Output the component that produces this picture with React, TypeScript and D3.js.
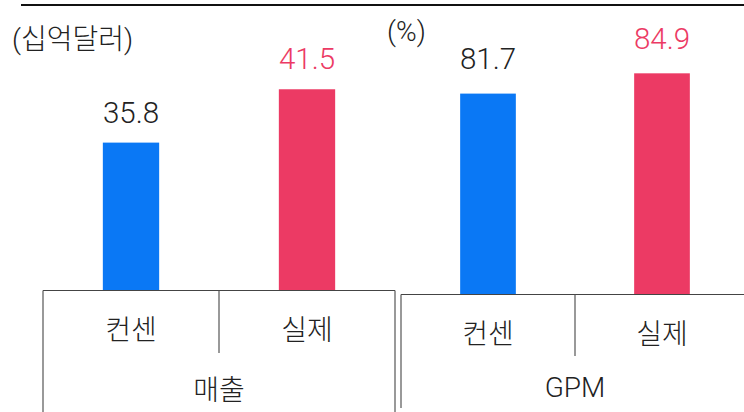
import React from "react";
import * as d3 from "d3";

const categories = ["컨센", "실제"];
const groups = ["매출", "GPM"];
const units = ["(십억달러)", "(%)"];
const salesValues = [35.8, 41.5];
const gpmValues = [81.7, 84.9];
const salesDomain = [20, 45];
const gpmDomain = [50, 90];

const BLUE = "#0a78f5";
const RED = "#ec3a64";
const FONT = "Roboto, 'Noto Sans CJK KR', sans-serif";

type Panel = {
  x0: number;
  x1: number;
  base: number;
  top: number;
  domain: number[];
  values: number[];
  group: string;
  unit: string;
  unitX: number;
  unitY: number;
  labelGap: number;
  catY: number;
  divBottom: number;
  groupY: number;
  leftBottom: number;
};

const panels: Panel[] = [
  {
    x0: 43, x1: 395, base: 290.5, top: 56.5, domain: salesDomain, values: salesValues,
    group: groups[0], unit: units[0], unitX: 12, unitY: 49, labelGap: 20,
    catY: 340, divBottom: 353, groupY: 400, leftBottom: 412,
  },
  {
    x0: 401, x1: 749, base: 294.5, top: 41, domain: gpmDomain, values: gpmValues,
    group: groups[1], unit: units[1], unitX: 387, unitY: 41, labelGap: 24.5,
    catY: 344, divBottom: 356, groupY: 397, leftBottom: 408,
  },
];

function PanelView({ p }: { p: Panel }) {
  const x = d3.scaleBand<string>().domain(categories).range([p.x0, p.x1]).paddingInner(0.68).paddingOuter(0.34);
  const xb = d3.scaleBand<string>().domain(categories).range([p.x0, p.x1]).padding(0);
  const y = d3.scaleLinear().domain(p.domain).range([p.base, p.top]);
  const mid = xb(categories[1])!;
  return (
    <g>
      {p.values.map((v, i) => {
        const c = categories[i];
        const bx = x(c)!;
        return (
          <g key={c}>
            <rect x={bx} y={y(v)} width={x.bandwidth()} height={p.base - y(v)} fill={i === 0 ? BLUE : RED} />
            <text
              x={bx + x.bandwidth() / 2}
              y={y(v) - p.labelGap}
              textAnchor="middle"
              fontSize={29.5}
              fontWeight={300}
              fill={i === 0 ? "#222" : RED}
            >
              {v.toFixed(1)}
            </text>
            <text
              x={xb(c)! + xb.bandwidth() / 2}
              y={p.catY}
              textAnchor="middle"
              fontSize={28}
              fontWeight={300}
              fill="#222"
            >
              {c}
            </text>
          </g>
        );
      })}
      <line x1={p.x0} x2={p.x1} y1={p.base} y2={p.base} stroke="#444" strokeWidth={1.2} />
      <line x1={p.x0} x2={p.x0} y1={p.base} y2={p.leftBottom} stroke="#555" strokeWidth={1.2} />
      <line x1={p.x1} x2={p.x1} y1={p.base} y2={p.leftBottom} stroke="#555" strokeWidth={1.2} />
      <line x1={mid} x2={mid} y1={p.base} y2={p.divBottom} stroke="#555" strokeWidth={1.2} />
      <text x={(p.x0 + p.x1) / 2} y={p.groupY} textAnchor="middle" fontSize={28} fontWeight={300} fill="#222">
        {p.group}
      </text>
      <text x={p.unitX} y={p.unitY} fontSize={28} fontWeight={300} fill="#222">
        {p.unit}
      </text>
    </g>
  );
}

export default function App() {
  return (
    <svg
      width={744}
      height={412}
      style={{ position: "absolute", left: 0, top: 0, background: "#fff" }}
      fontFamily={FONT}
    >
      <rect width={744} height={412} fill="#fff" />
      <line x1={21} x2={744} y1={5} y2={5} stroke="#111" strokeWidth={2} />
      {panels.map((p) => (
        <PanelView key={p.group} p={p} />
      ))}
    </svg>
  );
}
